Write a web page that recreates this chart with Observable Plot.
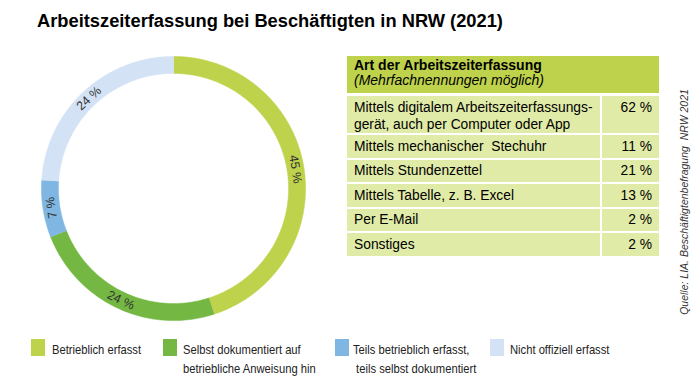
<!DOCTYPE html>
<html>
<head>
<meta charset="utf-8">
<script src="https://cdn.jsdelivr.net/npm/d3@7"></script>
<script src="https://cdn.jsdelivr.net/npm/@observablehq/plot@0.6"></script>
<style>
  html, body { margin: 0; padding: 0; background: #fff; }
  body { width: 696px; height: 379px; position: relative; overflow: hidden; font-family: "Liberation Sans", Arial, sans-serif; color: #000; }
  #title { position: absolute; left: 37px; top: 10.5px; font-size: 18.3px; line-height: 20px; font-weight: bold; white-space: nowrap; }
  #donut { position: absolute; left: 32.5px; top: 47.5px; }
  #table { position: absolute; left: 347px; top: 56px; width: 312px; display: grid; grid-template-columns: 253px 57px; column-gap: 2px; }
  #table .hd { grid-column: 1 / span 2; background: #bed24c; height: 37px; box-sizing: border-box; padding: 2px 7px 0; font-size: 14px; line-height: 15px; margin-bottom: 3px; }
  #table .hd b { font-weight: bold; }
  #table .hd i { font-style: italic; }
  #table .c { background: #e1eba8; box-sizing: border-box; padding: 2.5px 7px 0; font-size: 13.8px; line-height: 17px; margin-bottom: 2px; }
  #table .v { text-align: right; }
  #legend .sw { position: absolute; top: 339px; width: 14px; height: 17px; }
  #legend .lb { position: absolute; top: 339.5px; font-family: "Liberation Sans", sans-serif; font-size: 13.5px; line-height: 19px; color: #222; white-space: pre; transform: scaleX(0.83); transform-origin: 0 0; }
  #source { position: absolute; left: 684px; top: 202px; transform: translate(-50%, -50%) rotate(-90deg); font-size: 10.5px; font-style: italic; color: #333; white-space: pre; }
</style>
</head>
<body>
<div id="title"></div>
<div id="donut"></div>
<div id="table"></div>
<div id="legend"></div>
<div id="source"></div>
<script>
// ---- Data ----
const titleText = "Arbeitszeiterfassung bei Beschäftigten in NRW (2021)";
const slices = [
  "Betrieblich erfasst",
  "Selbst dokumentiert auf betriebliche Anweisung hin",
  "Teils betrieblich erfasst, teils selbst dokumentiert",
  "Nicht offiziell erfasst"
];
const shares = [45, 24, 7, 24];
const legendLabels = [
  "Betrieblich erfasst",
  "Selbst dokumentiert auf\nbetriebliche Anweisung hin",
  "Teils betrieblich erfasst,\n teils selbst dokumentiert",
  "Nicht offiziell erfasst"
];
const sliceColors = ["#bed24c", "#74b843", "#7fb7e2", "#d3e3f5"];

const tableHeader = "Art der Arbeitszeiterfassung";
const tableSubheader = "(Mehrfachnennungen möglich)";
const methods = [
  "Mittels digitalem Arbeitszeiterfassungs-\ngerät, auch per Computer oder App",
  "Mittels mechanischer  Stechuhr",
  "Mittels Stundenzettel",
  "Mittels Tabelle, z. B. Excel",
  "Per E-Mail",
  "Sonstiges"
];
const methodShares = [62, 11, 21, 13, 2, 2];
const sourceText = "Quelle: LIA. Beschäftigtenbefragung  NRW 2021";

// ---- Layout constants ----
const legendX = [31, 163, 335, 490];
const legendTextX = [52, 183, 352.5, 510];

document.getElementById("title").textContent = titleText;
document.getElementById("source").textContent = sourceText;

// ---- Donut ----
const R_OUT = 1, R_IN = 0.871, R_LAB = (R_OUT + R_IN) / 2;
const arcs = d3.pie().sort(null).value(d => d)(shares);
const ringPts = [];
arcs.forEach((a, i) => {
  const n = Math.max(4, Math.ceil((a.endAngle - a.startAngle) / 0.01));
  for (let k = 0; k <= n; k++) {
    const t = a.startAngle + (a.endAngle - a.startAngle) * k / n;
    ringPts.push({slice: slices[i], x: R_OUT * Math.sin(t), y: R_OUT * Math.cos(t)});
  }
  for (let k = n; k >= 0; k--) {
    const t = a.startAngle + (a.endAngle - a.startAngle) * k / n;
    ringPts.push({slice: slices[i], x: R_IN * Math.sin(t), y: R_IN * Math.cos(t)});
  }
});
const labels = arcs.map((a, i) => {
  const t = (a.startAngle + a.endAngle) / 2;
  let deg = t * 180 / Math.PI;
  if (Math.cos(t) < -0.3) deg -= 180;      // flip text in the lower part
  else if (deg > 180) deg -= 360;
  return {x: R_LAB * Math.sin(t), y: R_LAB * Math.cos(t), text: `${shares[i]} %`, rotate: deg};
});

const donut = Plot.plot({
  width: 280, height: 280,
  margin: 0,
  x: {domain: [-1.06, 1.06], axis: null},
  y: {domain: [-1.06, 1.06], axis: null},
  color: {domain: slices, range: sliceColors},
  style: {background: "transparent", overflow: "visible"},
  marks: [
    Plot.line(ringPts, {x: "x", y: "y", z: "slice", fill: "slice", stroke: "slice", strokeWidth: 0.5, curve: "linear"}),
    Plot.text(labels, {x: "x", y: "y", text: "text", rotate: "rotate", fontSize: 12.5, fill: "#333", fontFamily: "Liberation Sans, Arial, sans-serif"})
  ]
});
document.getElementById("donut").appendChild(donut);

// ---- Table ----
const tbl = document.getElementById("table");
const hd = document.createElement("div");
hd.className = "hd";
hd.innerHTML = `<b></b><br><i></i>`;
hd.querySelector("b").textContent = tableHeader;
hd.querySelector("i").textContent = tableSubheader;
tbl.appendChild(hd);
methods.forEach((m, i) => {
  const lines = m.split("\n").length;
  const h = lines > 1 ? 37 : 22.5;
  const c1 = document.createElement("div");
  c1.className = "c";
  c1.style.height = h + "px";
  c1.style.whiteSpace = "pre";
  c1.textContent = m;
  const c2 = document.createElement("div");
  c2.className = "c v";
  c2.style.height = h + "px";
  c2.textContent = `${methodShares[i]} %`;
  tbl.appendChild(c1);
  tbl.appendChild(c2);
});

// ---- Legend ----
const lg = document.getElementById("legend");
slices.forEach((s, i) => {
  const sw = document.createElement("div");
  sw.className = "sw";
  sw.style.left = legendX[i] + "px";
  sw.style.background = sliceColors[i];
  const lb = document.createElement("div");
  lb.className = "lb";
  lb.style.left = legendTextX[i] + "px";
  lb.textContent = legendLabels[i];
  lg.appendChild(sw);
  lg.appendChild(lb);
});
</script>
</body>
</html>
